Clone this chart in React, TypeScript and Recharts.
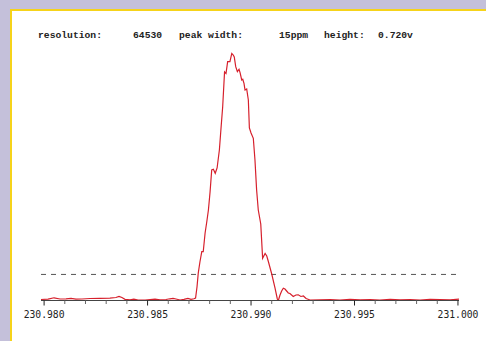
import { Line, LineChart, ReferenceLine, XAxis, YAxis } from "recharts";

// m/z values (x) and signal height in volts (y)
const MZ = [
  230.97985, 230.98019, 230.98048, 230.98077, 230.98106, 230.9813, 230.98154, 230.98183,
  230.98222, 230.9827, 230.98318, 230.98347, 230.98362, 230.98376, 230.98391, 230.98415,
  230.98434, 230.98454, 230.98488, 230.98512, 230.98536, 230.9856, 230.98589, 230.98608,
  230.98623, 230.98637, 230.98657, 230.98676, 230.98695, 230.9871, 230.98724, 230.98732,
  230.98739, 230.98745, 230.98753, 230.98762, 230.98769, 230.98778, 230.98786, 230.98794,
  230.98802, 230.9881, 230.98818, 230.98827, 230.98836, 230.98847, 230.98855, 230.98863,
  230.98872, 230.98879, 230.98887, 230.98898, 230.98907, 230.98914, 230.98919, 230.98926,
  230.98934, 230.98942, 230.98947, 230.98955, 230.9896, 230.98966, 230.98971, 230.98979,
  230.98987, 230.98992, 230.99, 230.99011, 230.99019, 230.99027, 230.99035, 230.99047,
  230.99056, 230.99068, 230.99076, 230.99083, 230.991, 230.99116, 230.99127, 230.99132,
  230.9914, 230.99148, 230.99156, 230.99164, 230.99172, 230.9918, 230.99188, 230.99204,
  230.99217, 230.99228, 230.99241, 230.99253, 230.99266, 230.99285, 230.99333, 230.99382,
  230.9943, 230.99478, 230.99527, 230.99575, 230.99623, 230.99672, 230.9972, 230.99768,
  230.99817, 230.99865, 230.99913, 230.99962, 231.00005,
];
const SIGNAL = [
  0.0029, 0.0038, 0.0079, 0.0044, 0.005, 0.0064, 0.0038, 0.0044,
  0.0058, 0.0064, 0.0067, 0.0087, 0.0117, 0.0087, 0.0035, 0.002,
  0.0038, 0.0015, 0.0015, 0.0026, 0.0038, 0.002, 0.0029, 0.005,
  0.0064, 0.0044, 0.0015, 0.0035, 0.0064, 0.0035, 0.0052, 0.0073,
  0.0402, 0.0802, 0.1122, 0.1422, 0.1422, 0.1967, 0.2288, 0.2638,
  0.3162, 0.3804, 0.3824, 0.3707, 0.3862, 0.4386, 0.5028, 0.5648,
  0.666, 0.6616, 0.696, 0.696, 0.72, 0.7155, 0.7097, 0.6814,
  0.6669, 0.6739, 0.6639, 0.6427, 0.6447, 0.633, 0.6135, 0.6164,
  0.5844, 0.5028, 0.4882, 0.4727, 0.4095, 0.3221, 0.2638, 0.223,
  0.123, 0.137, 0.1297, 0.1151, 0.0772, 0.0364, 0.0044, 0,
  0.016, 0.0277, 0.0356, 0.0335, 0.0277, 0.0219, 0.0204, 0.0117,
  0.016, 0.0166, 0.0117, 0.0131, 0.0058, 0.0015, 0.002, 0.0029,
  0.0015, 0.0035, 0.002, 0.0026, 0.0015, 0.0032, 0.002, 0.0029,
  0.0015, 0.0035, 0.0026, 0.002, 0.0038,
];
const X_TICKS = [
  230.98, 230.981, 230.982, 230.983, 230.984, 230.985, 230.986, 230.987, 230.988, 230.989,
  230.99, 230.991, 230.992, 230.993, 230.994, 230.995, 230.996, 230.997, 230.998, 230.999,
  231.0,
];
const THRESHOLD = 0.076; // 10 % level line
const HEADER = ["resolution:", "64530", "peak width:", "15ppm", "height:", "0.720v"];
const HEADER_X = [38, 133, 179, 279, 324, 378];

const LAVENDER = "#c4c0da";
const YELLOW = "#f6d31a";
const RED = "#d6202c";

const data = MZ.map((mz, i) => ({ mz, v: SIGNAL[i] }));

function MzTick(props: any) {
  const { x, y, payload, index } = props;
  const major = index % 5 === 0;
  return (
    <g>
      <line x1={x} x2={x} y1={y} y2={y + (major ? 5 : 3.5)} stroke={major ? "#222" : "#666"} />
      {major && (
        <text
          x={x}
          y={y + 17.5}
          textAnchor="middle"
          fontFamily="DejaVu Sans Mono"
          fontSize={9.7}
          fill="#222"
        >
          {payload.value.toFixed(3)}
        </text>
      )}
    </g>
  );
}

export default function App() {
  return (
    <div
      style={{ position: "fixed", left: 0, top: 0, width: 486, height: 341, background: LAVENDER }}
    >
      <div
        style={{
          position: "absolute",
          left: 10,
          top: 9,
          right: 0,
          bottom: 0,
          background: "#fff",
          borderLeft: `2.5px solid ${YELLOW}`,
          borderTop: `2.5px solid ${YELLOW}`,
        }}
      />
      <div style={{ position: "absolute", left: 0, top: 0 }}>
        <LineChart
          width={486}
          height={341}
          data={data}
          margin={{ top: 26, right: 27, bottom: 10.5, left: 41 }}
        >
          <XAxis
            dataKey="mz"
            type="number"
            domain={[230.97985, 231.00005]}
            ticks={X_TICKS}
            allowDataOverflow
            interval={0}
            height={30}
            tickSize={0}
            tickMargin={0}
            tickLine={false}
            axisLine={{ stroke: "#444" }}
            tick={<MzTick />}
          />
          <YAxis hide type="number" domain={[0, 0.8]} allowDataOverflow />
          <ReferenceLine y={THRESHOLD} stroke="#555" strokeDasharray="5 5" />
          <Line
            type="linear"
            dataKey="v"
            stroke={RED}
            strokeWidth={1.2}
            dot={false}
            isAnimationActive={false}
          />
          {HEADER.map((t, i) => (
            <text
              key={t}
              x={HEADER_X[i]}
              y={37.5}
              fontFamily="Liberation Mono"
              fontWeight="bold"
              fontSize={9.7}
              fill="#222"
            >
              {t}
            </text>
          ))}
        </LineChart>
      </div>
    </div>
  );
}
